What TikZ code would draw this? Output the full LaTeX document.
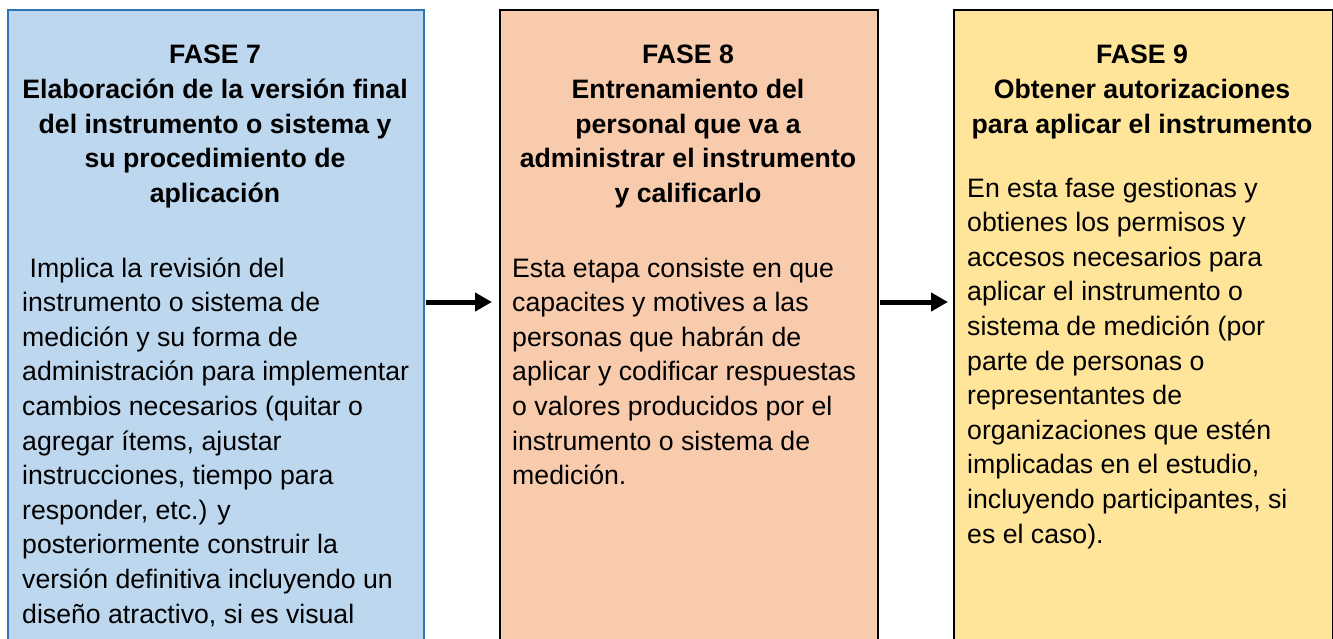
\documentclass[tikz,border=0pt]{standalone}
\usepackage{fontspec}
\setmainfont{Liberation Sans}
\usetikzlibrary{arrows.meta}
\definecolor{azul}{HTML}{BDD7EE}
\definecolor{azulborde}{HTML}{2E75B6}
\definecolor{salmon}{HTML}{F8CBAD}
\definecolor{amarillo}{HTML}{FFE599}

\begin{document}
\begin{tikzpicture}[x=1pt,y=-1pt]
      \tikzstyle caja=[draw=black, line width=2pt, anchor=north west,
      inner sep=0pt, minimum height=660pt]
      \tikzstyle titulo=[anchor=base, align=center, inner sep=0pt,
      font=\fontsize{26.67}{34.6}\selectfont\bfseries]
      \tikzstyle texto=[anchor=base west, align=left, inner sep=0pt,
      font=\fontsize{26.67}{34.6}\selectfont]
      \tikzstyle flecha=[line width=5pt, -{Triangle[length=17pt,width=18pt]}]
      \useasboundingbox (0,0) rectangle (1333,639);
      \clip (0,0) rectangle (1333,639);
      \node [caja, fill=azul, draw=azulborde, minimum width=416pt] (f7) at (7,9) {};
      \node [caja, fill=salmon, minimum width=378pt] (f8) at (499,9) {};
      \node [caja, fill=amarillo, minimum width=379pt] (f9) at (953,9) {};
      \node [titulo] (t7) at (215,202.4) {FASE 7\\Elaboración de la versión final\\del instrumento o sistema y\\su procedimiento de\\aplicación};
      \node [texto] (c7) at (22,623) {\ Implica la revisión del\\instrumento o sistema de\\medición y su forma de\\administración para implementar\\cambios necesarios (quitar o\\agregar ítems, ajustar\\instrucciones, tiempo para\\responder, etc.) y\\posteriormente construir la\\versión definitiva incluyendo un\\diseño atractivo, si es visual};
      \node [titulo] (t8) at (688,202.4) {FASE 8\\Entrenamiento del\\personal que va a\\administrar el instrumento\\y calificarlo};
      \node [texto] (c8) at (512,484.6) {Esta etapa consiste en que\\capacites y motives a las\\personas que habrán de\\aplicar y codificar respuestas\\o valores producidos por el\\instrumento o sistema de\\medición.};
      \node [titulo] (t9) at (1142,133.2) {FASE 9\\Obtener autorizaciones\\para aplicar el instrumento};
      \node [texto] (c9) at (967,543) {En esta fase gestionas y\\obtienes los permisos y\\accesos necesarios para\\aplicar el instrumento o\\sistema de medición (por\\parte de personas o\\representantes de\\organizaciones que estén\\implicadas en el estudio,\\incluyendo participantes, si\\es el caso).};
      \coordinate (m) at (0,302);
      \draw [flecha, shorten <=1pt, shorten >=7pt] (f7.east |- m) -- (f8.west |- m);
      \draw [flecha, shorten <=1pt, shorten >=5pt] (f8.east |- m) -- (f9.west |- m);
    \end{tikzpicture}
\end{document}
